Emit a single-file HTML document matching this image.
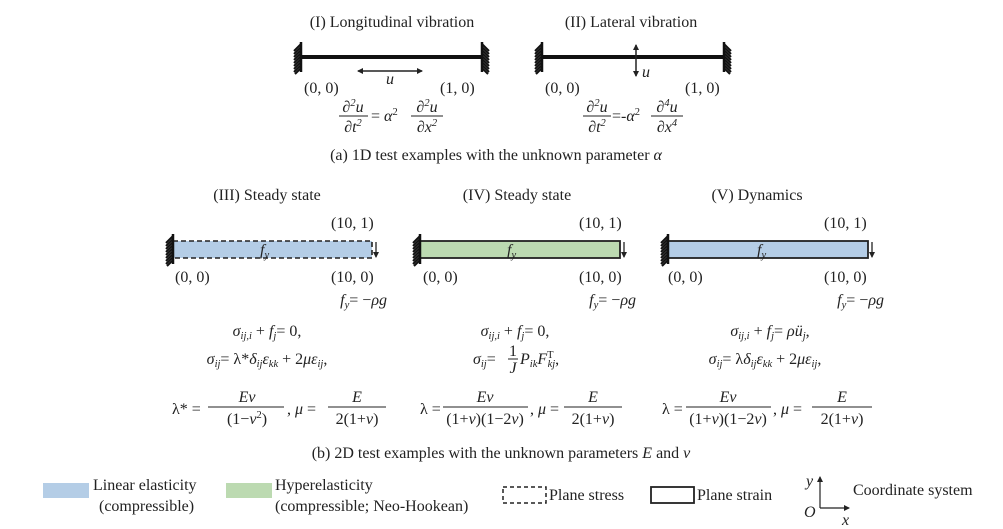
<!DOCTYPE html>
<html><head><meta charset="utf-8"><style>
html,body{margin:0;padding:0;background:#fff;}
svg{display:block;font-family:"Liberation Serif",serif;}
.t{font-size:16px;fill:#222;}
.m{font-size:16px;fill:#222;font-style:italic;}
.s{font-size:10.5px;}
</style></head><body>
<svg width="1003" height="529" viewBox="0 0 1003 529" xmlns="http://www.w3.org/2000/svg">
<defs>
<g id="hl" stroke="#111" stroke-width="2" fill="none">
<line x1="0" y1="-15" x2="0" y2="15" stroke-width="2.5"/>
<line x1="0" y1="-13" x2="-7" y2="-6"/><line x1="0" y1="-10" x2="-7" y2="-3"/><line x1="0" y1="-7" x2="-7" y2="0"/><line x1="0" y1="-4" x2="-7" y2="3"/><line x1="0" y1="-1" x2="-7" y2="6"/><line x1="0" y1="2" x2="-7" y2="9"/><line x1="0" y1="5" x2="-7" y2="12"/><line x1="0" y1="8" x2="-7" y2="15"/><line x1="0" y1="11" x2="-6" y2="17"/>
</g>
<g id="hr" stroke="#111" stroke-width="2" fill="none">
<line x1="0" y1="-15" x2="0" y2="15" stroke-width="2.5"/>
<line x1="0" y1="-13" x2="7" y2="-6"/><line x1="0" y1="-10" x2="7" y2="-3"/><line x1="0" y1="-7" x2="7" y2="0"/><line x1="0" y1="-4" x2="7" y2="3"/><line x1="0" y1="-1" x2="7" y2="6"/><line x1="0" y1="2" x2="7" y2="9"/><line x1="0" y1="5" x2="7" y2="12"/><line x1="0" y1="8" x2="7" y2="15"/><line x1="0" y1="11" x2="6" y2="17"/>
</g>
<marker id="ah" markerUnits="userSpaceOnUse" markerWidth="6" markerHeight="6" refX="5" refY="3" orient="auto-start-reverse"><path d="M0,0 L6,3 L0,6z" fill="#222"/></marker>
</defs>

<!-- Panel I -->
<text x="392" y="27" class="t" text-anchor="middle">(I) Longitudinal vibration</text>
<line x1="301" y1="57" x2="482" y2="57" stroke="#111" stroke-width="4"/>
<use href="#hl" x="301" y="57"/><use href="#hr" x="482" y="57"/>
<line x1="358" y1="71" x2="422" y2="71" stroke="#222" stroke-width="1.5" marker-end="url(#ah)" marker-start="url(#ah)"/>
<text x="386" y="84" class="m" font-size="14">u</text>
<text x="304" y="93" class="t">(0, 0)</text><text x="440" y="93" class="t">(1, 0)</text>
<text x="353" y="112" class="m" text-anchor="middle">∂<tspan class="s" dy="-6">2</tspan><tspan dy="6">u</tspan></text>
<line x1="339" y1="116" x2="368" y2="116" stroke="#222"/>
<text x="353" y="132" class="m" text-anchor="middle">∂t<tspan class="s" dy="-6">2</tspan></text>
<text x="371" y="121" class="t">= <tspan font-style="italic">α</tspan><tspan class="s" dy="-6">2</tspan></text>
<text x="427" y="112" class="m" text-anchor="middle">∂<tspan class="s" dy="-6">2</tspan><tspan dy="6">u</tspan></text>
<line x1="411" y1="116" x2="443" y2="116" stroke="#222"/>
<text x="427" y="132" class="m" text-anchor="middle">∂x<tspan class="s" dy="-6">2</tspan></text>

<!-- Panel II -->
<text x="631" y="27" class="t" text-anchor="middle">(II) Lateral vibration</text>
<line x1="542" y1="57" x2="724" y2="57" stroke="#111" stroke-width="4"/>
<use href="#hl" x="542" y="57"/><use href="#hr" x="724" y="57"/>
<line x1="636" y1="45" x2="636" y2="76" stroke="#222" stroke-width="1.5" marker-end="url(#ah)" marker-start="url(#ah)"/>
<text x="642" y="77" class="m" font-size="14">u</text>
<text x="545" y="93" class="t">(0, 0)</text><text x="685" y="93" class="t">(1, 0)</text>
<text x="597" y="112" class="m" text-anchor="middle">∂<tspan class="s" dy="-6">2</tspan><tspan dy="6">u</tspan></text>
<line x1="583" y1="116" x2="611" y2="116" stroke="#222"/>
<text x="597" y="132" class="m" text-anchor="middle">∂t<tspan class="s" dy="-6">2</tspan></text>
<text x="612" y="121" class="t">=-<tspan font-style="italic">α</tspan><tspan class="s" dy="-6">2</tspan></text>
<text x="667" y="112" class="m" text-anchor="middle">∂<tspan class="s" dy="-6">4</tspan><tspan dy="6">u</tspan></text>
<line x1="651" y1="116" x2="683" y2="116" stroke="#222"/>
<text x="667" y="132" class="m" text-anchor="middle">∂x<tspan class="s" dy="-6">4</tspan></text>

<text x="496" y="160" class="t" text-anchor="middle">(a) 1D test examples with the unknown parameter <tspan font-style="italic">α</tspan></text>

<!-- Panel III -->
<text x="267" y="200" class="t" text-anchor="middle">(III) Steady state</text>
<text x="331" y="228" class="t">(10, 1)</text>
<rect x="173" y="241" width="199" height="17" fill="#b4cde6" stroke="#222" stroke-width="1.6" stroke-dasharray="5,3"/>
<use href="#hl" x="173" y="249"/>
<line x1="376" y1="242" x2="376" y2="257" stroke="#222" stroke-width="1.3" marker-end="url(#ah)"/>
<text x="260" y="255" class="m" font-size="13" fill="#555">f<tspan class="s" dy="3">y</tspan></text>
<text x="175" y="282" class="t">(0, 0)</text><text x="331" y="282" class="t">(10, 0)</text>
<text x="387" y="305" class="m" text-anchor="end">f<tspan class="s" dy="3">y</tspan><tspan dy="-3" font-style="normal">= −</tspan>ρg</text>
<text x="267" y="336" class="m" text-anchor="middle">σ<tspan class="s" dy="3">ij,i</tspan><tspan dy="-3" font-style="normal"> + </tspan>f<tspan class="s" dy="3">j</tspan><tspan dy="-3" font-style="normal">= 0,</tspan></text>
<text x="267" y="364" class="m" text-anchor="middle">σ<tspan class="s" dy="3">ij</tspan><tspan dy="-3" font-style="normal">= λ*</tspan>δ<tspan class="s" dy="3">ij</tspan><tspan dy="-3">ε</tspan><tspan class="s" dy="3">kk</tspan><tspan dy="-3" font-style="normal"> + 2</tspan>με<tspan class="s" dy="3">ij</tspan><tspan dy="-3" font-style="normal">,</tspan></text>
<text x="172" y="414" class="t">λ* =</text>
<text x="247" y="402" class="m" text-anchor="middle">Eν</text>
<line x1="208" y1="407" x2="284" y2="407" stroke="#222"/>
<text x="247" y="424" class="t" text-anchor="middle">(1−<tspan font-style="italic">ν</tspan><tspan class="s" dy="-6">2</tspan><tspan dy="6">)</tspan></text>
<text x="287" y="414" class="t">, <tspan font-style="italic">μ</tspan> =</text>
<text x="357" y="402" class="m" text-anchor="middle">E</text>
<line x1="328" y1="407" x2="386" y2="407" stroke="#222"/>
<text x="357" y="424" class="t" text-anchor="middle">2(1+<tspan font-style="italic">ν</tspan>)</text>

<!-- Panel IV -->
<text x="517" y="200" class="t" text-anchor="middle">(IV) Steady state</text>
<text x="579" y="228" class="t">(10, 1)</text>
<rect x="420" y="241" width="200" height="17" fill="#bcdab1" stroke="#222" stroke-width="1.8"/>
<use href="#hl" x="420" y="249"/>
<line x1="624" y1="242" x2="624" y2="257" stroke="#222" stroke-width="1.3" marker-end="url(#ah)"/>
<text x="507" y="255" class="m" font-size="13" fill="#555">f<tspan class="s" dy="3">y</tspan></text>
<text x="423" y="282" class="t">(0, 0)</text><text x="579" y="282" class="t">(10, 0)</text>
<text x="636" y="305" class="m" text-anchor="end">f<tspan class="s" dy="3">y</tspan><tspan dy="-3" font-style="normal">= −</tspan>ρg</text>
<text x="515" y="336" class="m" text-anchor="middle">σ<tspan class="s" dy="3">ij,i</tspan><tspan dy="-3" font-style="normal"> + </tspan>f<tspan class="s" dy="3">j</tspan><tspan dy="-3" font-style="normal">= 0,</tspan></text>
<text x="473" y="364" class="m">σ<tspan class="s" dy="3">ij</tspan><tspan dy="-3" font-style="normal">=</tspan></text>
<text x="513" y="356" class="t" text-anchor="middle" font-size="13">1</text>
<line x1="508" y1="359" x2="518" y2="359" stroke="#222"/>
<text x="513" y="373" class="m" text-anchor="middle" font-size="13">J</text>
<text x="520" y="364" class="m">P<tspan class="s" dy="3">ik</tspan><tspan dy="-3">F</tspan><tspan class="s" dy="-6" font-style="normal">T</tspan><tspan class="s" dx="-6" dy="9">kj</tspan><tspan dy="-3" font-style="normal">,</tspan></text>
<text x="420" y="414" class="t">λ =</text>
<text x="485" y="402" class="m" text-anchor="middle">Eν</text>
<line x1="443" y1="407" x2="528" y2="407" stroke="#222"/>
<text x="485" y="424" class="t" text-anchor="middle">(1+<tspan font-style="italic">ν</tspan>)(1−2<tspan font-style="italic">ν</tspan>)</text>
<text x="530" y="414" class="t">, <tspan font-style="italic">μ</tspan> =</text>
<text x="593" y="402" class="m" text-anchor="middle">E</text>
<line x1="564" y1="407" x2="622" y2="407" stroke="#222"/>
<text x="593" y="424" class="t" text-anchor="middle">2(1+<tspan font-style="italic">ν</tspan>)</text>

<!-- Panel V -->
<text x="757" y="200" class="t" text-anchor="middle">(V) Dynamics</text>
<text x="824" y="228" class="t">(10, 1)</text>
<rect x="668" y="241" width="200" height="17" fill="#b4cde6" stroke="#222" stroke-width="1.8"/>
<use href="#hl" x="668" y="249"/>
<line x1="872" y1="242" x2="872" y2="257" stroke="#222" stroke-width="1.3" marker-end="url(#ah)"/>
<text x="757" y="255" class="m" font-size="13" fill="#555">f<tspan class="s" dy="3">y</tspan></text>
<text x="668" y="282" class="t">(0, 0)</text><text x="824" y="282" class="t">(10, 0)</text>
<text x="884" y="305" class="m" text-anchor="end">f<tspan class="s" dy="3">y</tspan><tspan dy="-3" font-style="normal">= −</tspan>ρg</text>
<text x="770" y="336" class="m" text-anchor="middle">σ<tspan class="s" dy="3">ij,i</tspan><tspan dy="-3" font-style="normal"> + </tspan>f<tspan class="s" dy="3">j</tspan><tspan dy="-3" font-style="normal">= </tspan>ρü<tspan class="s" dy="3">j</tspan><tspan dy="-3" font-style="normal">,</tspan></text>
<text x="765" y="364" class="m" text-anchor="middle">σ<tspan class="s" dy="3">ij</tspan><tspan dy="-3" font-style="normal">= λ</tspan>δ<tspan class="s" dy="3">ij</tspan><tspan dy="-3">ε</tspan><tspan class="s" dy="3">kk</tspan><tspan dy="-3" font-style="normal"> + 2</tspan>με<tspan class="s" dy="3">ij</tspan><tspan dy="-3" font-style="normal">,</tspan></text>
<text x="662" y="414" class="t">λ =</text>
<text x="728" y="402" class="m" text-anchor="middle">Eν</text>
<line x1="686" y1="407" x2="771" y2="407" stroke="#222"/>
<text x="728" y="424" class="t" text-anchor="middle">(1+<tspan font-style="italic">ν</tspan>)(1−2<tspan font-style="italic">ν</tspan>)</text>
<text x="773" y="414" class="t">, <tspan font-style="italic">μ</tspan> =</text>
<text x="842" y="402" class="m" text-anchor="middle">E</text>
<line x1="812" y1="407" x2="872" y2="407" stroke="#222"/>
<text x="842" y="424" class="t" text-anchor="middle">2(1+<tspan font-style="italic">ν</tspan>)</text>

<text x="501" y="458" class="t" text-anchor="middle">(b) 2D test examples with the unknown parameters <tspan font-style="italic">E</tspan> and <tspan font-style="italic">ν</tspan></text>

<!-- Legend -->
<rect x="43" y="483" width="46" height="15" fill="#b4cde6"/>
<text x="93" y="490" class="t">Linear elasticity</text>
<text x="99" y="511" class="t">(compressible)</text>
<rect x="226" y="483" width="46" height="15" fill="#bcdab1"/>
<text x="275" y="490" class="t">Hyperelasticity</text>
<text x="275" y="511" class="t">(compressible; Neo-Hookean)</text>
<rect x="503" y="487" width="43" height="16" fill="none" stroke="#222" stroke-width="1.5" stroke-dasharray="4,3"/>
<text x="549" y="500" class="t">Plane stress</text>
<rect x="651" y="487" width="43" height="16" fill="none" stroke="#222" stroke-width="1.8"/>
<text x="697" y="500" class="t">Plane strain</text>
<line x1="820" y1="508" x2="820" y2="477" stroke="#222" stroke-width="1.2" marker-end="url(#ah)"/>
<line x1="820" y1="508" x2="849" y2="508" stroke="#222" stroke-width="1.2" marker-end="url(#ah)"/>
<text x="806" y="486" class="m" font-size="14">y</text>
<text x="804" y="517" class="m" font-size="14">O</text>
<text x="842" y="525" class="m" font-size="14">x</text>
<text x="853" y="495" class="t">Coordinate system</text>
</svg>
</body></html>
